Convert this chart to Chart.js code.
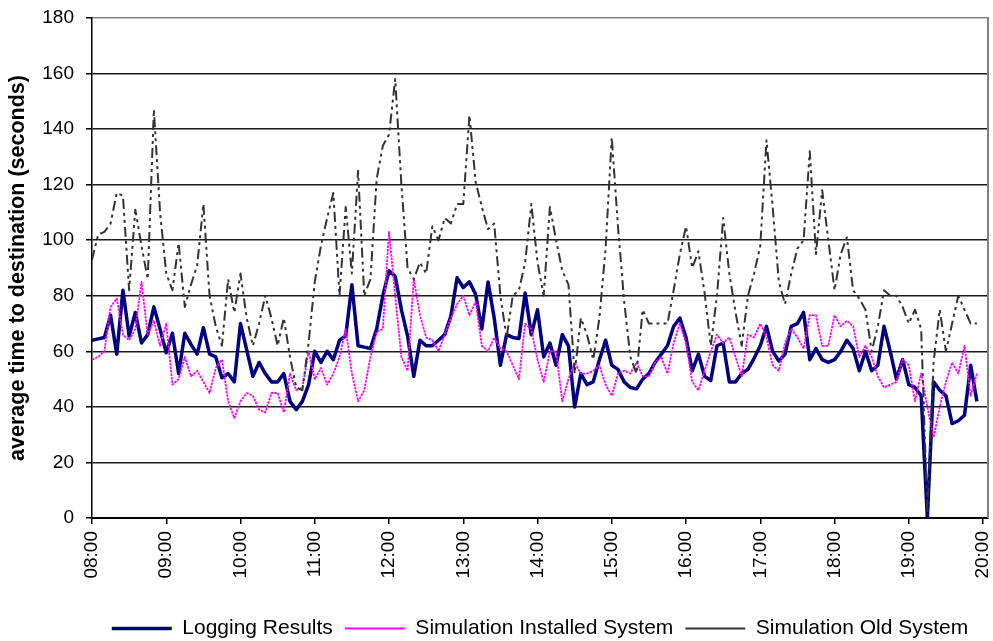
<!DOCTYPE html>
<html>
<head>
<meta charset="utf-8">
<script src="https://cdn.jsdelivr.net/npm/chart.js@4"></script>
<style>
    body { margin: 0; background: #fff; }
</style>
</head>
<body>
<canvas id="timeChart" width="993" height="641"></canvas>
<script>
// one value every 5 minutes, starting at 08:00
const STEP_MINUTES = 5;
const hourLabels = ['08:00', '09:00', '10:00', '11:00', '12:00', '13:00', '14:00',
    '15:00', '16:00', '17:00', '18:00', '19:00', '20:00'];

// average time to destination (seconds)
const loggingResults = [
    64, 64.5, 65, 73, 59, 82, 65.5, 74, 63, 66, 76, 68,
    59.5, 66.5, 52, 66.5, 62.5, 59, 68.5, 59, 58, 50.5, 52, 49,
    70, 60.5, 51, 56, 52, 49, 49, 52, 42, 39, 42, 48,
    60, 56, 60, 57, 64, 65.5, 84, 62, 61.5, 61, 68, 80,
    89, 87, 75, 65.5, 51, 64, 62, 62, 64, 66, 72.7, 86.5,
    83, 85, 80.5, 68, 85, 72, 55, 66, 65, 64.6, 81, 66,
    75, 58, 63, 55, 66, 62, 40, 52, 48, 49, 57, 64,
    55, 53.5, 49, 47, 46.5, 50, 52, 56, 59, 62, 69, 72,
    65, 53, 59, 51, 49.5, 62, 63, 49, 49, 52, 53.5, 57.5,
    62, 69, 60, 56.5, 59, 69, 70, 74, 57, 61, 57, 56,
    57, 60, 64, 61, 53, 60, 53, 55, 69, 60, 50, 57,
    48, 47, 44, 0, 49, 46, 44, 34, 35, 37, 55, 42,
    null
];

const simInstalled = [
    57, 58, 60, 76, 79, 66, 64, 68, 85, 66, 71, 62,
    70, 48, 50, 58, 51, 53, 49, 45, 54, 57, 42, 36,
    42, 45, 44, 39, 38, 45, 45, 38, 52, 46, 47, 60,
    50, 54, 48, 52, 58, 68, 52, 42, 46, 58, 67, 68,
    103, 80, 58, 53, 86, 73, 65, 64, 60, 66, 72, 77,
    80, 73, 78, 62, 60, 65, 61, 60, 55, 50, 70, 68,
    57, 49, 60, 60, 42, 50, 56, 52, 52, 53, 55, 48,
    44, 52, 53, 52, 56, 51, 51, 56, 58, 52, 63, 70,
    63, 49, 46, 53, 60, 66, 63, 65, 58, 51, 66, 65,
    70, 65, 55, 53, 63, 68, 65, 61, 73, 73, 62, 62,
    73, 69, 71, 69, 58, 62, 58, 51, 47, 48, 49, 57,
    55, 42, 52, 40, 29, 40, 49, 56, 52, 62, 44, 52,
    null
];

const simOld = [
    93, 102, 103, 106, 117, 116, 82, 111, 98, 86, 147, 110,
    88, 82, 99, 76, 84, 91, 113, 80, 69, 62, 86, 74,
    88, 72, 62, 70, 80, 72, 62, 72, 58, 47, 46, 63,
    85, 98, 108, 117, 80, 112, 88, 125, 80, 86, 122, 134,
    138, 158, 120, 90, 86, 92, 88, 105, 100, 108, 106, 113,
    113, 145, 121, 112, 104, 106, 80, 65, 80, 82, 92, 113,
    92, 80, 112, 100, 89, 84, 52, 72, 66, 57, 72, 97,
    137, 105, 78, 58, 52, 75, 70, 70, 70, 70, 82, 95,
    105, 90, 96, 81, 62, 80, 108, 88, 74, 62, 80, 88,
    98, 136, 112, 85, 77, 88, 97, 100, 132, 95, 118, 100,
    82, 95, 101, 82, 79, 75, 60, 69, 82, 80, 80, 76,
    70, 75, 68, 2, 56, 75, 60, 70, 80, 75, 70, 70,
    null
];

const FONT = "'Liberation Sans', Arial, sans-serif";

// minutes after 08:00 -> {x, y}
function toPoints(values) {
    return values.map((v, i) => ({ x: i * STEP_MINUTES, y: v }));
}

// gray frame line on the right side of the plot
const rightFrame = {
    id: 'rightFrame',
    afterDraw(chart) {
        const { ctx, chartArea } = chart;
        ctx.save();
        ctx.strokeStyle = '#808080';
        ctx.lineWidth = 2;
        ctx.beginPath();
        ctx.moveTo(chartArea.right, chartArea.top - 1);
        ctx.lineTo(chartArea.right, chartArea.bottom);
        ctx.stroke();
        ctx.restore();
    }
};

const ctx = document.getElementById('timeChart').getContext('2d');
new Chart(ctx, {
    type: 'line',
    data: {
        datasets: [
            {
                label: 'Logging Results', data: toPoints(loggingResults),
                borderColor: '#000080', borderWidth: 3.5, order: 2
            },
            {
                label: 'Simulation Installed System', data: toPoints(simInstalled),
                borderColor: '#ff00ff', borderWidth: 1.8, borderDash: [2.5, 1], order: 1
            },
            {
                label: 'Simulation Old System', data: toPoints(simOld),
                borderColor: '#333333', borderWidth: 2, borderDash: [10, 4, 3, 4, 3, 4], order: 0
            }
        ]
    },
    options: {
        responsive: false,
        animation: false,
        devicePixelRatio: 1,
        layout: { padding: { top: 18, right: 5, bottom: 0, left: 0 } },
        elements: {
            point: { radius: 0, hoverRadius: 0 },
            line: { tension: 0, fill: false, borderJoinStyle: 'round' }
        },
        scales: {
            x: {
                type: 'linear',
                min: 0,
                max: 724,
                afterBuildTicks: scale => {
                    scale.ticks = hourLabels.map((_, i) => ({ value: i * 60 }));
                },
                afterFit: scale => {
                    scale.height = 88;
                    scale.paddingLeft = 0;
                    scale.paddingRight = 0;
                },
                ticks: {
                    autoSkip: false,
                    minRotation: 90,
                    maxRotation: 90,
                    padding: 7,
                    color: '#000',
                    font: { family: FONT, size: 19 },
                    callback: (value, i) => hourLabels[i]
                },
                grid: {
                    drawOnChartArea: false,
                    drawTicks: true,
                    tickLength: 6,
                    color: '#000',
                    lineWidth: 1.5
                },
                border: { display: true, color: '#000', width: 2 }
            },
            y: {
                min: 0,
                max: 180,
                afterFit: scale => {
                    scale.width = 92;
                    scale.paddingTop = 0;
                    scale.paddingBottom = 0;
                },
                ticks: {
                    stepSize: 20,
                    padding: 12,
                    color: '#000',
                    font: { family: FONT, size: 19 }
                },
                grid: {
                    tickLength: 6,
                    lineWidth: 1.5,
                    tickColor: '#000',
                    color: c => (c.tick && c.tick.value === 180 ? '#808080' : '#1a1a1a')
                },
                border: { display: true, color: '#000', width: 1.5 },
                title: {
                    display: true,
                    text: 'average time to destination (seconds)',
                    color: '#000',
                    font: { family: FONT, size: 21.5, weight: 'bold' },
                    padding: { top: 5, bottom: 0 }
                }
            }
        },
        plugins: {
            tooltip: { enabled: false },
            legend: {
                position: 'bottom',
                fullSize: false,
                maxHeight: 35,
                labels: {
                    usePointStyle: true,
                    pointStyle: 'line',
                    pointStyleWidth: 60,
                    padding: 12,
                    color: '#000',
                    font: { family: FONT, size: 21 },
                    sort: (a, b) => a.datasetIndex - b.datasetIndex
                }
            }
        }
    },
    plugins: [rightFrame]
});
</script>
</body>
</html>
